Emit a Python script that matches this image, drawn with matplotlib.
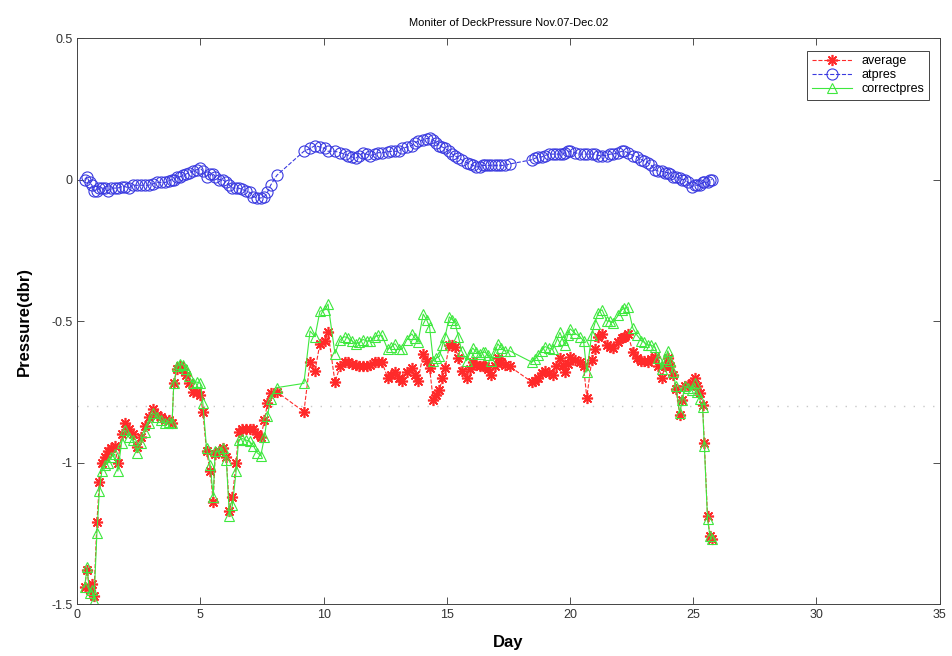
import matplotlib
matplotlib.use("Agg")
import matplotlib.pyplot as plt

plt.rcParams['font.family'] = ['Liberation Sans', 'DejaVu Sans']

# sample times (day) shared by the three records
days = [
    0.30, 0.40, 0.50, 0.60, 0.68, 0.80, 0.90, 1.00, 1.12, 1.25,
    1.38, 1.52, 1.65, 1.80, 1.95, 2.10, 2.25, 2.43, 2.60, 2.75,
    2.90, 3.08, 3.25, 3.40, 3.57, 3.72, 3.85, 3.92, 4.05, 4.18,
    4.30, 4.42, 4.55, 4.70, 4.85, 5.00, 5.10, 5.25, 5.40, 5.52,
    5.60, 5.75, 5.90, 6.05, 6.18, 6.30, 6.45, 6.55, 6.70, 6.85,
    7.00, 7.15, 7.30, 7.45, 7.60, 7.72, 7.85, 8.10,
    9.20, 9.45, 9.65, 9.85, 10.05, 10.18, 10.46, 10.67, 10.85, 11.00,
    11.15, 11.30, 11.45, 11.60, 11.75, 11.90, 12.08, 12.22, 12.37, 12.60,
    12.75, 12.90, 13.05, 13.18, 13.38, 13.58, 13.70, 13.83, 14.04, 14.18,
    14.30, 14.45, 14.58, 14.70, 14.82, 14.93, 15.10, 15.22, 15.33, 15.47,
    15.60, 15.80, 15.93, 16.05, 16.20, 16.33, 16.45, 16.55, 16.68, 16.80,
    16.95, 17.07, 17.20, 17.35, 17.55,
    18.45, 18.58, 18.70, 18.85, 18.98, 19.15, 19.30, 19.45, 19.59, 19.70,
    19.80, 19.90, 20.00, 20.20, 20.40, 20.55, 20.68, 20.88, 21.00, 21.14,
    21.30, 21.50, 21.62, 21.75, 21.95, 22.10, 22.20, 22.35, 22.55, 22.72,
    22.90, 23.02, 23.15, 23.30, 23.44, 23.58, 23.72, 23.85, 23.97, 24.07,
    24.17, 24.30, 24.45, 24.55, 24.66, 24.80, 24.94, 25.06, 25.16, 25.26,
    25.38, 25.45, 25.58, 25.68, 25.75,
]

average = [
    -1.44, -1.38, -1.45, -1.43, -1.47, -1.21, -1.07, -1.00, -0.98, -0.96,
    -0.95, -0.94, -1.00, -0.90, -0.86, -0.88, -0.90, -0.945, -0.91, -0.87,
    -0.84, -0.81, -0.83, -0.84, -0.85, -0.85, -0.86, -0.72, -0.67, -0.66,
    -0.67, -0.69, -0.72, -0.75, -0.75, -0.76, -0.82, -0.96, -1.03, -1.14,
    -0.97, -0.96, -0.95, -0.98, -1.17, -1.12, -1.00, -0.89, -0.88, -0.88,
    -0.88, -0.88, -0.90, -0.91, -0.85, -0.79, -0.755, -0.75,
    -0.82, -0.645, -0.675, -0.58, -0.57, -0.54, -0.715, -0.66, -0.645, -0.645,
    -0.65, -0.655, -0.66, -0.66, -0.66, -0.655, -0.645, -0.645, -0.645, -0.70,
    -0.69, -0.68, -0.70, -0.71, -0.68, -0.665, -0.69, -0.71, -0.615, -0.64,
    -0.665, -0.78, -0.76, -0.745, -0.70, -0.665, -0.585, -0.585, -0.59, -0.63,
    -0.675, -0.70, -0.67, -0.645, -0.655, -0.66, -0.66, -0.66, -0.67, -0.69,
    -0.66, -0.63, -0.645, -0.655, -0.66,
    -0.715, -0.71, -0.70, -0.685, -0.675, -0.685, -0.69, -0.66, -0.63, -0.655,
    -0.68, -0.65, -0.627, -0.638, -0.645, -0.66, -0.77, -0.638, -0.60, -0.555,
    -0.545, -0.585, -0.59, -0.595, -0.575, -0.56, -0.555, -0.545, -0.61, -0.63,
    -0.64, -0.64, -0.645, -0.635, -0.627, -0.66, -0.70, -0.66, -0.63, -0.66,
    -0.69, -0.74, -0.83, -0.78, -0.73, -0.725, -0.72, -0.70, -0.73, -0.755,
    -0.795, -0.93, -1.19, -1.26, -1.27,
]

atpres = [
    0.00, 0.01, -0.01, -0.02, -0.04, -0.04, -0.03, -0.03, -0.03, -0.04,
    -0.03, -0.03, -0.03, -0.025, -0.025, -0.03, -0.02, -0.02, -0.02, -0.02,
    -0.02, -0.015, -0.01, -0.01, -0.01, -0.005, 0.00, 0.00, 0.01, 0.01,
    0.015, 0.02, 0.025, 0.03, 0.035, 0.04, 0.03, 0.01, 0.02, 0.02,
    0.01, 0.00, 0.00, -0.01, -0.02, -0.03, -0.03, -0.03, -0.035, -0.04,
    -0.045, -0.06, -0.065, -0.065, -0.06, -0.045, -0.02, 0.015,
    0.10, 0.11, 0.12, 0.115, 0.11, 0.10, 0.10, 0.095, 0.09, 0.085,
    0.08, 0.075, 0.085, 0.095, 0.09, 0.085, 0.09, 0.095, 0.095, 0.098,
    0.10, 0.10, 0.10, 0.11, 0.115, 0.12, 0.13, 0.135, 0.14, 0.145,
    0.146, 0.14, 0.13, 0.12, 0.115, 0.11, 0.10, 0.09, 0.085, 0.075,
    0.07, 0.06, 0.055, 0.05, 0.045, 0.045, 0.05, 0.05, 0.05, 0.05,
    0.05, 0.05, 0.05, 0.05, 0.055,
    0.07, 0.075, 0.08, 0.08, 0.085, 0.09, 0.09, 0.09, 0.09, 0.09,
    0.095, 0.10, 0.10, 0.095, 0.09, 0.09, 0.09, 0.09, 0.09, 0.085,
    0.085, 0.085, 0.09, 0.09, 0.095, 0.10, 0.10, 0.095, 0.085, 0.08,
    0.07, 0.065, 0.06, 0.05, 0.035, 0.03, 0.03, 0.025, 0.025, 0.02,
    0.01, 0.01, 0.005, 0.00, 0.00, -0.01, -0.025, -0.02, -0.02, -0.02,
    -0.01, -0.01, -0.01, 0.00, 0.00,
]

correctpres = [
    -1.44, -1.37, -1.46, -1.45, -1.49, -1.25, -1.10, -1.03, -1.01, -1.00,
    -0.98, -0.97, -1.03, -0.93, -0.885, -0.91, -0.92, -0.965, -0.93, -0.89,
    -0.86, -0.825, -0.84, -0.85, -0.86, -0.855, -0.86, -0.72, -0.66, -0.65,
    -0.655, -0.67, -0.695, -0.72, -0.715, -0.72, -0.79, -0.95, -1.01, -1.12,
    -0.96, -0.96, -0.95, -0.99, -1.19, -1.15, -1.03, -0.92, -0.915, -0.92,
    -0.925, -0.94, -0.965, -0.975, -0.91, -0.835, -0.775, -0.735,
    -0.72, -0.535, -0.555, -0.465, -0.46, -0.44, -0.615, -0.565, -0.555, -0.56,
    -0.57, -0.58, -0.575, -0.565, -0.57, -0.57, -0.555, -0.55, -0.55, -0.60,
    -0.59, -0.58, -0.60, -0.60, -0.565, -0.545, -0.56, -0.575, -0.475, -0.495,
    -0.52, -0.64, -0.63, -0.625, -0.585, -0.555, -0.485, -0.495, -0.505, -0.555,
    -0.605, -0.64, -0.615, -0.595, -0.61, -0.615, -0.61, -0.61, -0.62, -0.64,
    -0.61, -0.58, -0.595, -0.605, -0.605,
    -0.645, -0.635, -0.62, -0.605, -0.59, -0.595, -0.60, -0.57, -0.54, -0.565,
    -0.585, -0.55, -0.527, -0.543, -0.555, -0.57, -0.68, -0.548, -0.51, -0.47,
    -0.46, -0.50, -0.50, -0.505, -0.48, -0.46, -0.455, -0.45, -0.525, -0.55,
    -0.57, -0.575, -0.585, -0.585, -0.592, -0.63, -0.67, -0.635, -0.605, -0.64,
    -0.68, -0.73, -0.825, -0.78, -0.73, -0.735, -0.745, -0.72, -0.75, -0.775,
    -0.805, -0.94, -1.20, -1.26, -1.27,
]

fig = plt.figure(figsize=(9.53, 6.56), dpi=100)
ax = fig.add_axes([0.081, 0.079, 0.905, 0.863])

ax.axhline(-0.8, color='#c8c8c8', linestyle=(0, (1, 6)), linewidth=1.0, zorder=0)

# asterisk marker: 8 thin arms, like a '+' laid over an 'x'
asterisk = (8, 2, 0)
ax.plot(days, average, color='#ff2a2a', linestyle='--', linewidth=0.8,
        marker=asterisk, markersize=8, markeredgewidth=1.2, label='average')
ax.plot(days, atpres, color='#3a3ae0', linestyle='--', linewidth=0.8,
        marker='o', markersize=8, markerfacecolor='none', markeredgewidth=0.8,
        label='atpres')
ax.plot(days, correctpres, color='#3ee83e', linestyle='-', linewidth=0.8,
        marker='^', markersize=7, markerfacecolor='none', markeredgewidth=0.8,
        label='correctpres')

ax.set_xlim(0, 35)
ax.set_ylim(-1.5, 0.5)
ax.set_xticks([0, 5, 10, 15, 20, 25, 30, 35])
ax.set_yticks([-1.5, -1, -0.5, 0, 0.5])
ax.set_yticklabels(['-1.5', '-1', '-0.5', '0', '0.5'])
ax.tick_params(direction='in', top=True, right=True, labelsize=9, length=5,
               width=0.6, colors='#333333')
for s in ax.spines.values():
    s.set_linewidth(0.7)
    s.set_color('#444444')

ax.set_title('Moniter of DeckPressure Nov.07-Dec.02', fontsize=8, pad=9)
ax.set_xlabel('Day', fontsize=12, fontweight='bold', labelpad=10)
ax.set_ylabel('Pressure(dbr)', fontsize=12, fontweight='bold', labelpad=14)

leg = ax.legend(loc='upper right', fontsize=9, fancybox=False, framealpha=1,
                edgecolor='#444444', handlelength=3.2, borderpad=0.35,
                labelspacing=0.15, bbox_to_anchor=(0.995, 0.988))
leg.get_frame().set_linewidth(0.7)

fig.savefig('out.png', dpi=100)
